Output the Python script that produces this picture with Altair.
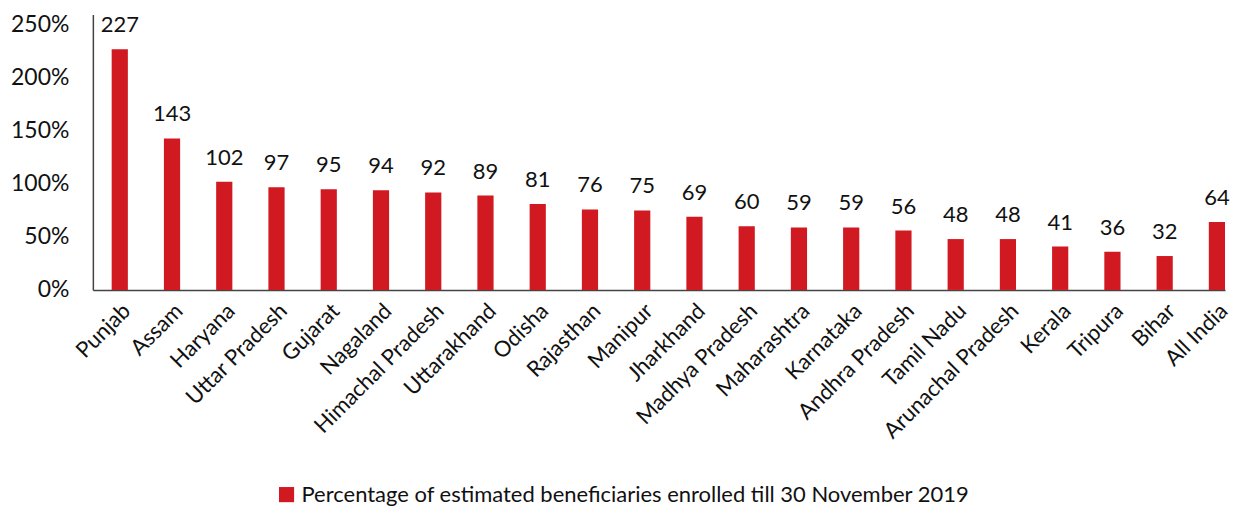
import altair as alt
import pandas as pd

states = ["Punjab", "Assam", "Haryana", "Uttar Pradesh", "Gujarat", "Nagaland",
          "Himachal Pradesh", "Uttarakhand", "Odisha", "Rajasthan", "Manipur",
          "Jharkhand", "Madhya Pradesh", "Maharashtra", "Karnataka", "Andhra Pradesh",
          "Tamil Nadu", "Arunachal Pradesh", "Kerala", "Tripura", "Bihar", "All India"]
values = [227, 143, 102, 97, 95, 94, 92, 89, 81, 76, 75, 69, 60, 59, 59, 56,
          48, 48, 41, 36, 32, 64]
series_name = "Percentage of estimated beneficiaries enrolled till 30 November 2019"

df = pd.DataFrame({"state": states, "value": values, "series": series_name})

FONT = "Lato"
RED = "#d01920"

base = alt.Chart(df).encode(
    x=alt.X("state:N", sort=states, title=None,
            scale=alt.Scale(paddingInner=0.69, paddingOuter=0.18, align=1),
            axis=alt.Axis(labelAngle=-45, labelFontSize=22, labelFont=FONT,
                          labelColor="#111", ticks=False, domainColor="#444",
                          domainWidth=1.5, labelPadding=10, labelLimit=400)),
)

bars = base.mark_bar(color=RED).encode(
    y=alt.Y("value:Q", title=None,
            scale=alt.Scale(domain=[0, 250]),
            axis=alt.Axis(values=[0, 50, 100, 150, 200, 250], labelExpr="datum.value + '%'",
                          grid=False, ticks=False, labelFontSize=23, labelFont=FONT,
                          labelColor="#111", domainColor="#444", domainWidth=1.5,
                          labelPadding=24)),
    color=alt.Color("series:N", scale=alt.Scale(range=[RED]), title=None,
                    legend=alt.Legend(orient="none", legendX=183, legendY=470,
                                      labelFontSize=22, labelFont=FONT,
                                      labelColor="#111", symbolType="square",
                                      symbolSize=230, symbolStrokeWidth=0,
                                      labelLimit=1000)),
)

labels = base.mark_text(dy=-24, fontSize=22, font=FONT, color="#111").encode(
    y=alt.Y("value:Q"),
    text=alt.Text("value:Q"),
)

chart = alt.layer(bars, labels).properties(
    width=1134, height=276,
    padding={"top": 5, "left": 2, "right": 0, "bottom": 0}
).configure(background="white").configure_view(stroke=None)

chart.save("out.html", embed_options={"renderer": "svg", "actions": False})
